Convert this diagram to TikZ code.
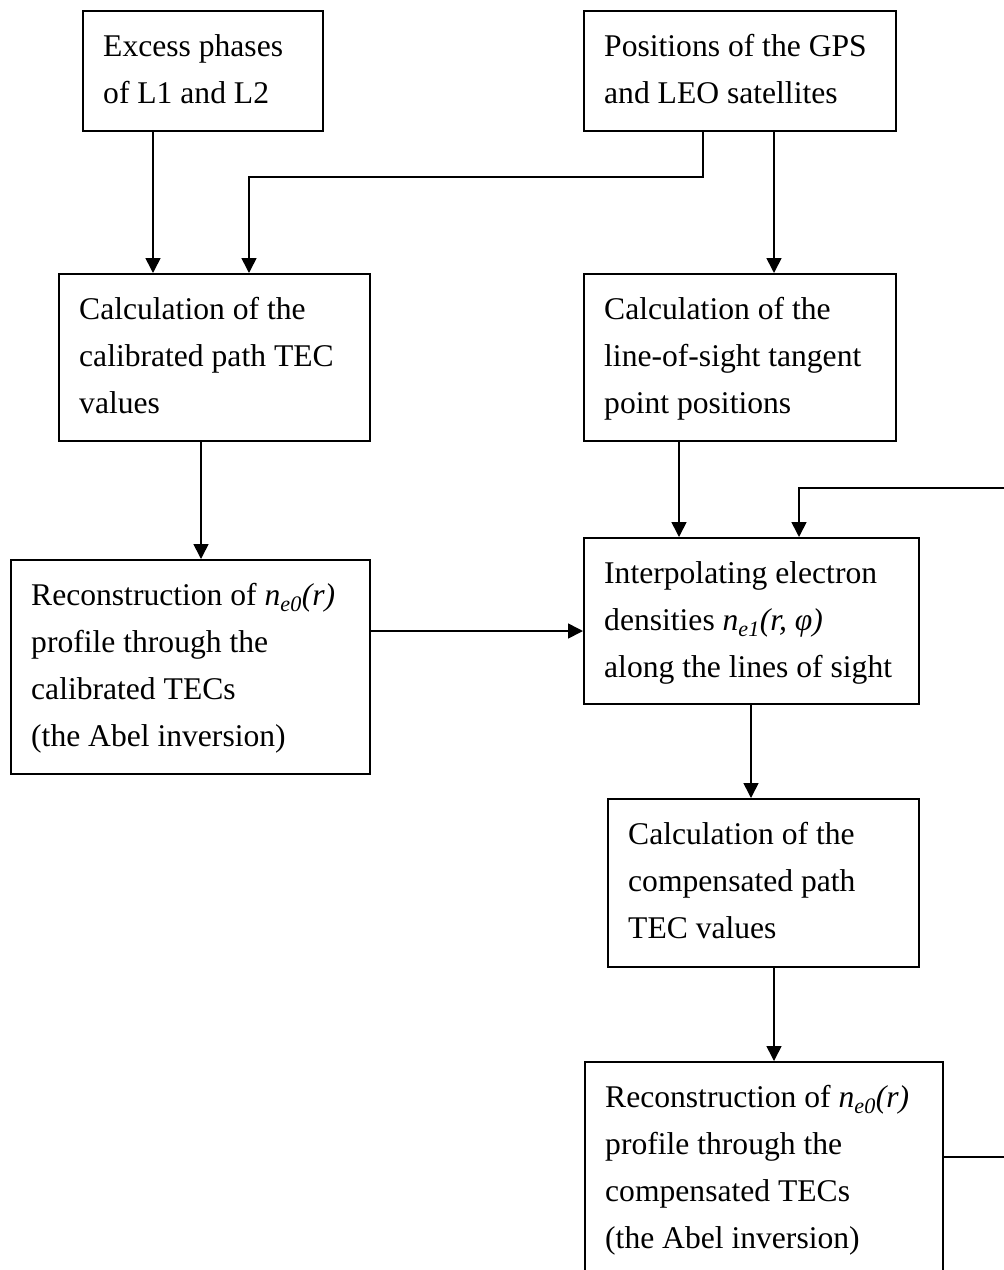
\documentclass[tikz,border=0pt]{standalone}
\usepackage{fontspec}
\setmainfont{Liberation Serif}
\usetikzlibrary{arrows.meta}
\tikzset{
  box/.style={draw, line width=1.5pt, inner sep=0pt, anchor=north west},
  txt/.style={anchor=north west, inner sep=0pt, align=left, font=\fontsize{31.6}{47}\selectfont},
  arr/.style={line width=1.6pt, -{Triangle[length=15pt,width=15pt]}},
  lin/.style={line width=1.6pt}
}
\newcommand{\firstline}{\rule{0pt}{46pt}}
\begin{document}
\begin{tikzpicture}[x=1pt,y=-1pt]
\useasboundingbox (0,0) rectangle (1004,1270);
\clip (0,0) rectangle (1004,1270);
% boxes
\node[box, minimum width=240pt, minimum height=120pt] (A) at (82,10) {};
\node[box, minimum width=312pt, minimum height=120pt] (B) at (583,10) {};
\node[box, minimum width=311pt, minimum height=167pt] (C) at (58,273) {};
\node[box, minimum width=312pt, minimum height=167pt] (D) at (583,273) {};
\node[box, minimum width=359pt, minimum height=214pt] (E) at (10,559) {};
\node[box, minimum width=335pt, minimum height=166pt] (F) at (583,537) {};
\node[box, minimum width=311pt, minimum height=168pt] (G) at (607,798) {};
\node[box, minimum width=358pt, minimum height=215pt] (H) at (584,1061) {};
% texts
\node[txt] (At) at ([xshift=21pt]A.north west) {\firstline Excess phases\\of L1 and L2};
\node[txt] (Bt) at ([xshift=21pt]B.north west) {\firstline Positions of the GPS\\and LEO satellites};
\node[txt] (Ct) at ([xshift=21pt]C.north west) {\firstline Calculation of the\\calibrated path TEC\\values};
\node[txt] (Dt) at ([xshift=21pt]D.north west) {\firstline Calculation of the\\line-of-sight tangent\\point positions};
\node[txt] (Et) at ([xshift=21pt]E.north west) {\firstline Reconstruction of \textit{n}\textsubscript{\textit{e0}}\textit{(r)}\\profile through the\\calibrated TECs\\(the Abel inversion)};
\node[txt] (Ft) at ([xshift=21pt]F.north west) {\firstline Interpolating electron\\densities \textit{n}\textsubscript{\textit{e1}}\textit{(r, φ)}\\along the lines of sight};
\node[txt] (Gt) at ([xshift=21pt]G.north west) {\firstline Calculation of the\\compensated path\\TEC values};
\node[txt] (Ht) at ([xshift=21pt]H.north west) {\firstline Reconstruction of \textit{n}\textsubscript{\textit{e0}}\textit{(r)}\\profile through the\\compensated TECs\\(the Abel inversion)};
% connector points
\coordinate (j1) at (703,177);
\coordinate (j2) at (249,177);
\coordinate (fbin) at (1004,488);
\coordinate (fbturn) at (799,488);
\coordinate (fbout) at (1004,1157);
% connectors
\draw[arr] (A.south -| 153,0) -- (C.north -| 153,0);
\draw[arr] (B.south -| j1) -- (j1) -- (j2) -- (C.north -| j2);
\draw[arr] (B.south -| 774,0) -- (D.north -| 774,0);
\draw[arr] (C.south -| 201,0) -- (E.north -| 201,0);
\draw[arr] (D.south -| 679,0) -- (F.north -| 679,0);
\draw[arr] (fbin) -- (fbturn) -- (F.north -| fbturn);
\draw[arr] (E.east |- 0,631) -- (F.west |- 0,631);
\draw[arr] (F.south -| 751,0) -- (G.north -| 751,0);
\draw[arr] (G.south -| 774,0) -- (H.north -| 774,0);
\draw[lin] (H.east |- fbout) -- (fbout);
\end{tikzpicture}
\end{document}
